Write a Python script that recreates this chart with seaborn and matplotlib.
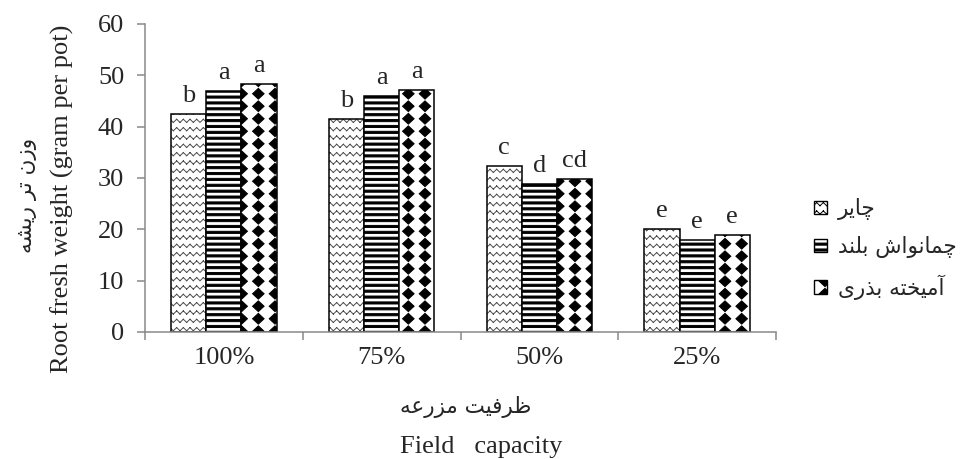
import numpy as np
import pandas as pd
import matplotlib
matplotlib.use("Agg")
import matplotlib.pyplot as plt
import matplotlib.hatch as mhatch
from matplotlib.path import Path
from matplotlib.patches import Patch
import seaborn as sns

# ---------------- data ----------------
categories = ["100%", "75%", "50%", "25%"]
series_names = ["چایر", "چمانواش بلند", "آمیخته بذری"]
chayer = [42.5, 41.5, 32.3, 20.0]
chamanvash = [47.0, 45.9, 28.8, 17.9]
mixed = [48.3, 47.2, 29.9, 18.9]
letters_chayer = ["b", "b", "c", "e"]
letters_chamanvash = ["a", "a", "d", "e"]
letters_mixed = ["a", "a", "cd", "e"]
yticks = [0, 10, 20, 30, 40, 50, 60]
ylabel_en = "Root fresh weight (gram per pot)"
ylabel_fa = "وزن تر ریشه"
xlabel_fa = "ظرفیت مزرعه"
xlabel_en = "Field   capacity"

# ---------------- Persian shaping (presentation forms, visual order) ----------------
FORMS = {
    'ا': ('\uFE8D', '\uFE8E', None, None),
    'آ': ('\uFE81', '\uFE82', None, None),
    'ب': ('\uFE8F', '\uFE90', '\uFE91', '\uFE92'),
    'ت': ('\uFE95', '\uFE96', '\uFE97', '\uFE98'),
    'چ': ('\uFB7A', '\uFB7B', '\uFB7C', '\uFB7D'),
    'خ': ('\uFEA5', '\uFEA6', '\uFEA7', '\uFEA8'),
    'د': ('\uFEA9', '\uFEAA', None, None),
    'ذ': ('\uFEAB', '\uFEAC', None, None),
    'ر': ('\uFEAD', '\uFEAE', None, None),
    'ز': ('\uFEAF', '\uFEB0', None, None),
    'ش': ('\uFEB5', '\uFEB6', '\uFEB7', '\uFEB8'),
    'ظ': ('\uFEC5', '\uFEC6', '\uFEC7', '\uFEC8'),
    'ع': ('\uFEC9', '\uFECA', '\uFECB', '\uFECC'),
    'ف': ('\uFED1', '\uFED2', '\uFED3', '\uFED4'),
    'ل': ('\uFEDD', '\uFEDE', '\uFEDF', '\uFEE0'),
    'م': ('\uFEE1', '\uFEE2', '\uFEE3', '\uFEE4'),
    'ن': ('\uFEE5', '\uFEE6', '\uFEE7', '\uFEE8'),
    'ه': ('\uFEE9', '\uFEEA', '\uFEEB', '\uFEEC'),
    'و': ('\uFEED', '\uFEEE', None, None),
    'ی': ('\uFBFC', '\uFBFD', '\uFBFE', '\uFBFF'),
}


def shape(text):
    words = []
    for word in text.split(' '):
        chars = list(word)
        res = []
        for i, c in enumerate(chars):
            iso, fin, ini, med = FORMS[c]
            prev_j = i > 0 and FORMS[chars[i - 1]][2] is not None
            next_j = ini is not None and i < len(chars) - 1
            if prev_j and next_j:
                res.append(med)
            elif prev_j:
                res.append(fin)
            elif next_j:
                res.append(ini)
            else:
                res.append(iso)
        words.append(''.join(res))
    return ' '.join(words)[::-1]


# ---------------- custom hatch patterns ----------------
class ZigzagHatch(mhatch.HatchPatternBase):
    def __init__(self, hatch, density):
        self.on = '|' in hatch
        self.rows, self.periods, self.amp = 12, 15, 0.016
        self.num_vertices = self.rows * self.periods * 4 if self.on else 0

    def set_vertices_and_codes(self, vertices, codes):
        xs = np.linspace(0, 1, 2 * self.periods + 1)
        offs = np.where(np.arange(2 * self.periods + 1) % 2 == 0, -self.amp, self.amp)
        k = 0
        for r in (np.arange(self.rows) + 0.5) / self.rows:
            for j in range(2 * self.periods):
                vertices[k] = (xs[j], r + offs[j]); codes[k] = Path.MOVETO; k += 1
                vertices[k] = (xs[j + 1], r + offs[j + 1]); codes[k] = Path.LINETO; k += 1


class StripeHatch(mhatch.HatchPatternBase):
    def __init__(self, hatch, density):
        self.on = '-' in hatch
        self.n, self.h = 17, 0.021
        self.num_vertices = self.n * 5 if self.on else 0

    def set_vertices_and_codes(self, vertices, codes):
        k = 0
        for c in (np.arange(self.n) + 0.5) / self.n:
            pts = [(0, c - self.h / 2), (1, c - self.h / 2), (1, c + self.h / 2),
                   (0, c + self.h / 2), (0, c - self.h / 2)]
            cds = [Path.MOVETO, Path.LINETO, Path.LINETO, Path.LINETO, Path.CLOSEPOLY]
            for p, cd in zip(pts, cds):
                vertices[k] = p; codes[k] = cd; k += 1


class DiamondHatch(mhatch.HatchPatternBase):
    def __init__(self, hatch, density):
        self.on = '*' in hatch
        self.cols, self.rows, self.w, self.hh = 6, 8, 0.058, 0.054
        self.num_vertices = self.cols * self.rows * 5 if self.on else 0

    def set_vertices_and_codes(self, vertices, codes):
        k = 0
        for cx in (np.arange(self.cols) + 0.5) / self.cols:
            for cy in (np.arange(self.rows) + 0.5) / self.rows:
                pts = [(cx, cy - self.hh), (cx + self.w, cy), (cx, cy + self.hh),
                       (cx - self.w, cy), (cx, cy - self.hh)]
                cds = [Path.MOVETO, Path.LINETO, Path.LINETO, Path.LINETO, Path.CLOSEPOLY]
                for p, cd in zip(pts, cds):
                    vertices[k] = p; codes[k] = cd; k += 1


mhatch._hatch_types[:] = [ZigzagHatch, StripeHatch, DiamondHatch]
hatches = ['|', '-', '*']

# ---------------- style ----------------
sns.set_theme(style="white")
plt.rcParams['font.family'] = ['Liberation Serif', 'DejaVu Sans']
plt.rcParams['hatch.linewidth'] = 0.7
axis_gray = '#898989'
FS = 19
FA_FS = 15.5

df = pd.DataFrame({
    'category': categories * 3,
    'series': [series_names[0]] * 4 + [series_names[1]] * 4 + [series_names[2]] * 4,
    'value': chayer + chamanvash + mixed,
})

fig = plt.figure(figsize=(9.71, 4.59), dpi=100)
ax = fig.add_axes([145 / 971, 1 - 332 / 459, (776 - 145) / 971, (332 - 24) / 459])

sns.barplot(data=df, x='category', y='value', hue='series', order=categories,
            hue_order=series_names, palette=['white'] * 3, saturation=1,
            width=0.67, errorbar=None, edgecolor='black', linewidth=1.1,
            legend=False, ax=ax)

for cont, h, labs in zip(ax.containers, hatches,
                         [letters_chayer, letters_chamanvash, letters_mixed]):
    for bar in cont:
        bar.set_hatch(h)
        if h == '|':
            bar._hatch_color = (0.3, 0.3, 0.3, 1.0)
    ax.bar_label(cont, labels=labs, padding=5, fontsize=FS)

ax.set_xlim(-0.5, len(categories) - 0.5)
ax.set_ylim(0, 60)
ax.set_yticks(yticks)
ax.set_yticklabels([str(v) for v in yticks], fontsize=FS)
ax.set_xticks(np.arange(len(categories) + 1) - 0.5)
ax.set_xticklabels([''] * (len(categories) + 1))
ax.set_xticks(np.arange(len(categories)), minor=True)
ax.set_xticklabels(categories, minor=True, fontsize=FS)
ax.tick_params(axis='x', which='major', direction='out', length=6, width=1.1,
               color=axis_gray, bottom=True)
ax.tick_params(axis='x', which='minor', length=0, pad=11, bottom=True)
ax.tick_params(axis='y', direction='out', length=6, width=1.1, color=axis_gray,
               pad=9, left=True)
ax.set_xlabel('')
ax.set_ylabel('')
for s in ['top', 'right']:
    ax.spines[s].set_visible(False)
for s in ['left', 'bottom']:
    ax.spines[s].set_color(axis_gray)
    ax.spines[s].set_linewidth(1.1)

# axis titles
fig.text(62 / 971, 1 - 199 / 459, ylabel_en, rotation=90, ha='center', va='center',
         fontsize=FS)
fig.text(27 / 971, 1 - 195 / 459, shape(ylabel_fa), rotation=90, ha='center',
         va='center', fontsize=FA_FS, family='DejaVu Sans')
fig.text(466 / 971, 1 - 413 / 459, shape(xlabel_fa), ha='center', va='baseline',
         fontsize=FA_FS, family='DejaVu Sans')
fig.text(481 / 971, 1 - 453 / 459, xlabel_en, ha='center', va='baseline', fontsize=FS)

# legend
handles = [Patch(facecolor='white', edgecolor='black', hatch=h, linewidth=1.0)
           for h in hatches]
fig.legend(handles, [shape(s) for s in series_names], loc='upper left',
           bbox_to_anchor=(814 / 971, 1 - 198 / 459), frameon=False,
           prop={'family': 'DejaVu Sans', 'size': FA_FS}, handlelength=0.6,
           handleheight=0.6, handletextpad=0.5, labelspacing=0.75,
           borderpad=0, borderaxespad=0)

fig.savefig('out.png', dpi=100)
